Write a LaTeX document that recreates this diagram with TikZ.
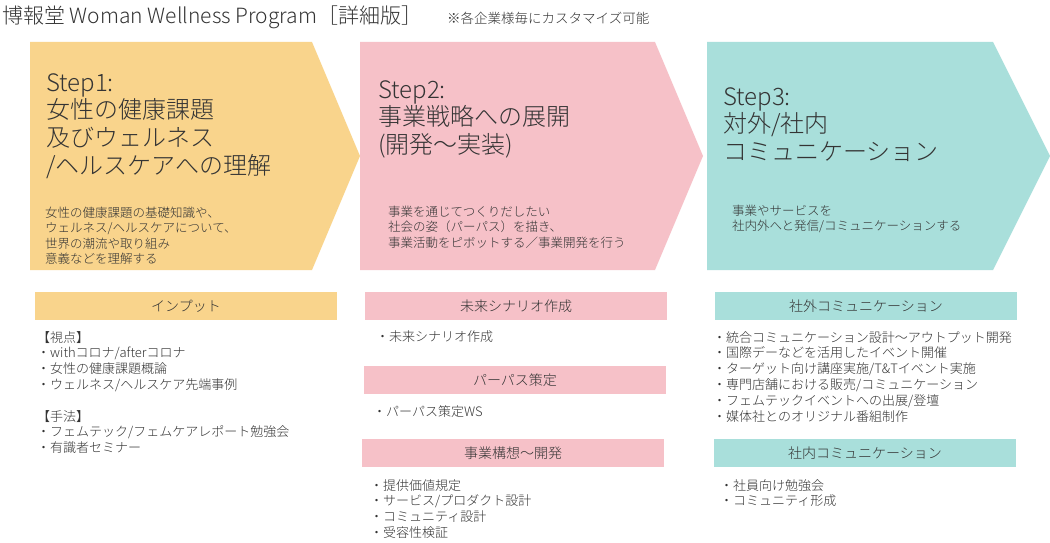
\documentclass[tikz,border=0pt]{standalone}
\usepackage{fontspec}
\setmainfont{Noto Sans CJK JP}[UprightFont = * Light]
\usepackage{tikz}
\usetikzlibrary{positioning}
\tikzstyle{canvas} = [x = 1pt, y = -1pt, every node/.style={inner sep = 0pt, text = textGrey}]
\definecolor{stepYellow}{RGB}{249,212,140}
\definecolor{stepPink}{RGB}{246,193,200}
\definecolor{stepTeal}{RGB}{169,223,219}
\definecolor{textGrey}{RGB}{52,52,52}
\tikzstyle{headText} = [anchor = north west, align = left, font = \fontsize{24}{27.8}\selectfont]
\tikzstyle{descText} = [anchor = north west, align = left, font = \fontsize{12.5}{15.3}\selectfont]
\tikzstyle{listText} = [anchor = north west, align = left, font = \fontsize{13}{15.8}\selectfont]
\tikzstyle{barText} = [font = \fontsize{14}{16}\selectfont, midway]
\newcommand{\stepArrow}[4]{\fill [#4] (#1, 42) -- (#2, 42) -- (#3, 156) -- (#2, 270) -- (#1, 270) -- cycle;}
\newcommand{\barBox}[5]{\fill [#3] (#1, #2) rectangle + (302, 28) node [barText] (#4) {#5};}

\begin{document}
\begin{tikzpicture}[canvas]
  \useasboundingbox [fill = white] (0, 0) rectangle (1050, 543);
  \node [anchor = west, font = \fontsize{21}{24}\selectfont] (title) at (2, 17) {博報堂 Woman Wellness Program［詳細版］};
  \node [anchor = west, font = \fontsize{13.5}{16}\selectfont] (titleNote) at (447, 18) {※各企業様毎にカスタマイズ可能};

  \stepArrow{30}{312}{360}{stepYellow}
  \stepArrow{360}{655}{703}{stepPink}
  \stepArrow{707}{993}{1050}{stepTeal}

  \node [headText] (stepOne) at (46, 73) {Step1:\\女性の健康課題\\及びウェルネス\\/ヘルスケアへの理解};
  \node [headText] (stepTwo) at (378, 80) {Step2:\\事業戦略への展開\\(開発〜実装)};
  \node [headText] (stepThree) at (723, 87) {Step3:\\対外/社内\\コミュニケーション};

  \node [descText] (stepOneText) at (45, 207) {女性の健康課題の基礎知識や、\\ウェルネス/ヘルスケアについて、\\世界の潮流や取り組み\\意義などを理解する};
  \node [descText] (stepTwoText) at (388, 206) {事業を通じてつくりだしたい\\社会の姿（パーパス）を描き、\\事業活動をピボットする／事業開発を行う};
  \node [descText] (stepThreeText) at (732, 205) {事業やサービスを\\社内外へと発信/コミュニケーションする};

  \barBox{35}{292}{stepYellow}{inputBar}{インプット}
  \node [listText] (viewList) at (37, 331) {【視点】\\・withコロナ/afterコロナ\\・女性の健康課題概論\\・ウェルネス/ヘルスケア先端事例};
  \node [listText] (methodList) at (37, 410) {【手法】\\・フェムテック/フェムケアレポート勉強会\\・有識者セミナー};

  \barBox{365}{292}{stepPink}{scenarioBar}{未来シナリオ作成}
  \node [listText] (scenarioList) at (376, 330) {・未来シナリオ作成};
  \barBox{364}{366}{stepPink}{purposeBar}{パーパス策定}
  \node [listText] (purposeList) at (373, 405) {・パーパス策定WS};
  \barBox{362}{439}{stepPink}{conceptBar}{事業構想〜開発}
  \node [listText] (conceptList) at (370, 479) {・提供価値規定\\・サービス/プロダクト設計\\・コミュニティ設計\\・受容性検証};

  \barBox{715}{292}{stepTeal}{outsideBar}{社外コミュニケーション}
  \node [listText] (outsideList) at (713, 331) {・統合コミュニケーション設計〜アウトプット開発\\・国際デーなどを活用したイベント開催\\・ターゲット向け講座実施/T\&Tイベント実施\\・専門店舗における販売/コミュニケーション\\・フェムテックイベントへの出展/登壇\\・媒体社とのオリジナル番組制作};
  \barBox{714}{439}{stepTeal}{insideBar}{社内コミュニケーション}
  \node [listText] (insideList) at (720, 479) {・社員向け勉強会\\・コミュニティ形成};
\end{tikzpicture}
\end{document}
